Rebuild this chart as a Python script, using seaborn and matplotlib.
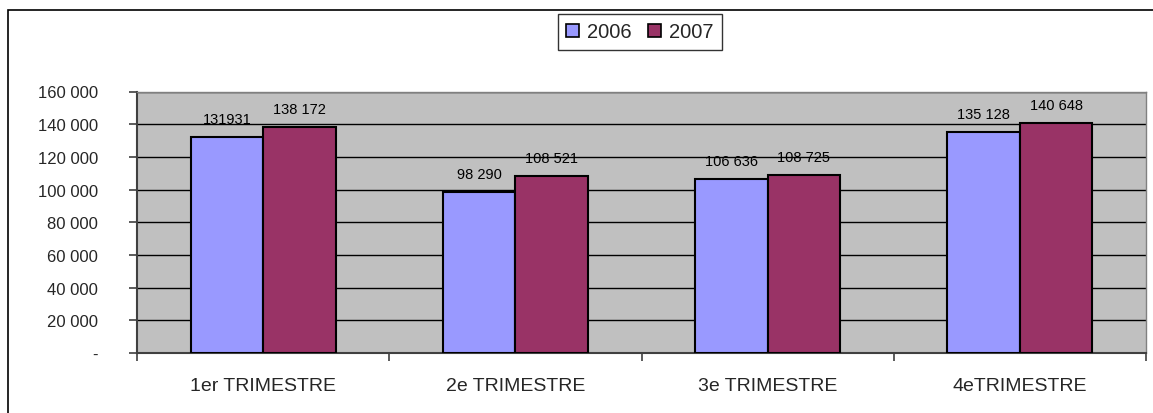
# -*- coding: utf-8 -*-
# Chiffre par trimestre, 2006 vs 2007 - barres groupees
import matplotlib.pyplot as plt
from matplotlib.patches import Rectangle
from matplotlib.ticker import FuncFormatter, MultipleLocator, FixedLocator
import pandas as pd
import seaborn as sns

trimestres = ['1er TRIMESTRE', '2e TRIMESTRE', '3e TRIMESTRE', '4eTRIMESTRE']
annees = ['2006', '2007']
valeurs_2006 = [131931, 98290, 106636, 135128]
valeurs_2007 = [138172, 108521, 108725, 140648]
etiquettes_2006 = ['131931', '98 290', '106 636', '135 128']
etiquettes_2007 = ['138 172', '108 521', '108 725', '140 648']
couleurs = ['#9999FF', '#993366']

df = pd.DataFrame({
    'trimestre': trimestres * 2,
    'annee': [annees[0]] * 4 + [annees[1]] * 4,
    'valeur': valeurs_2006 + valeurs_2007,
})

sns.set_style('white')
plt.rcParams['font.family'] = ['Liberation Sans', 'DejaVu Sans']

fig = plt.figure(figsize=(11.53, 4.14), dpi=100)
ax = fig.add_axes([137 / 1153, 1 - 354 / 414, (1146 - 137) / 1153, (354 - 92.5) / 414])
ax.set_facecolor('#C0C0C0')

sns.barplot(data=df, x='trimestre', y='valeur', hue='annee', palette=couleurs,
            saturation=1, width=0.575, edgecolor='black', linewidth=1.5, ax=ax, zorder=3)

for cont, labs in zip(ax.containers, [etiquettes_2006, etiquettes_2007]):
    ax.bar_label(cont, labels=labs, padding=8, fontsize=10.5, color='black')

ax.set_ylim(0, 160000)
ax.set_xlim(-0.5, 3.5)
ax.yaxis.set_major_locator(MultipleLocator(20000))
ax.yaxis.set_major_formatter(FuncFormatter(
    lambda v, p: '-' if v == 0 else '{:,.0f}'.format(v).replace(',', ' ')))
ax.grid(axis='y', color='black', linewidth=1, zorder=0)
ax.set_axisbelow(True)

ax.xaxis.set_minor_locator(FixedLocator([-0.5, 0.5, 1.5, 2.5, 3.5]))
ax.tick_params(axis='x', which='major', bottom=False, length=0, labelsize=14, pad=17)
ax.tick_params(axis='x', which='minor', bottom=True, length=6, width=1.2,
               color='#404040', direction='out')
ax.tick_params(axis='y', left=True, length=6, width=1.2, color='#404040', direction='out',
               labelsize=12, pad=22)
ax.set_xlabel('')
ax.set_ylabel('')

for s in ['left', 'bottom']:
    ax.spines[s].set_color('#404040')
    ax.spines[s].set_linewidth(1.5)
for s in ['top', 'right']:
    ax.spines[s].set_color('#808080')
    ax.spines[s].set_linewidth(1)

ax.legend_.remove()
handles = [Rectangle((0, 0), 1, 1, facecolor=c, edgecolor='black', linewidth=1.2)
           for c in couleurs]
leg = fig.legend(handles, annees, loc='center', bbox_to_anchor=(640 / 1153, 1 - 33 / 414),
                 ncol=2, fontsize=14.5, frameon=True, fancybox=False,
                 handlelength=0.65, handleheight=0.65, handletextpad=0.4,
                 columnspacing=0.8, borderpad=0.4)
leg.get_frame().set_edgecolor('black')
leg.get_frame().set_linewidth(1)

# cadre exterieur du graphique
fig.patches.append(Rectangle((8 / 1153, -0.2), 1.2, 1.2 - 10.5 / 414,
                             transform=fig.transFigure, fill=False,
                             edgecolor='black', linewidth=1.2))

fig.savefig('out.png', dpi=100)
